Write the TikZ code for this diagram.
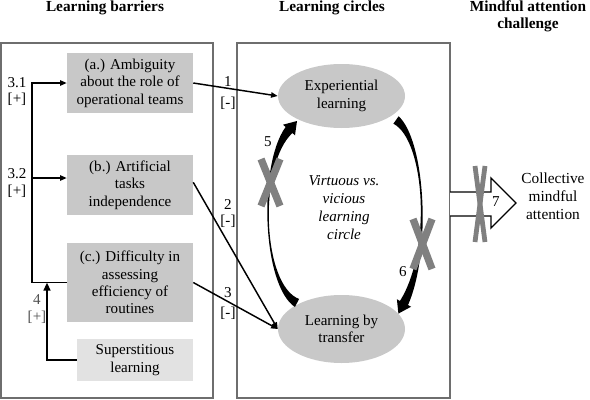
\documentclass[tikz,border=0pt]{standalone}
\usepackage{fontspec}
\setmainfont{Liberation Serif}
\usetikzlibrary{arrows.meta,shapes.geometric}
\definecolor{boxgray}{RGB}{200,200,200}
\definecolor{lightbox}{RGB}{226,226,226}
\definecolor{panelgray}{RGB}{110,110,110}
\definecolor{xgray}{RGB}{128,128,128}
\definecolor{labgray}{RGB}{80,80,80}
\begin{document}
\begin{tikzpicture}[x=0.75pt,y=-0.75pt,
  every node/.style={font=\fontsize{11.3}{13.1}\selectfont, inner sep=0pt},
  titlelab/.style={font=\bfseries\fontsize{11.5}{12.8}\selectfont, align=center},
  panel/.style={draw=panelgray, line width=1.1pt},
  box/.style={fill=boxgray, minimum width=94.5pt, align=center},
  ell/.style={ellipse, fill=boxgray, minimum width=95.25pt, align=center},
  arr/.style={line width=1.1pt, -{Triangle[length=5pt,width=4pt]}},
  arrfour/.style={line width=1.8pt, -{Triangle[length=6pt,width=5pt]}},
  xbar/.style={draw=xgray, line width=5.5pt},
  xbarthin/.style={draw=xgray, line width=3.6pt},
  ribbon/.style={fill=black}
]
\useasboundingbox (0,0) rectangle (590,400);

% panels
\draw[panel] (1,43) rectangle (213,398);
\draw[panel] (237,43) rectangle (450,398);

% titles
\node[titlelab] (t1) at (105,8) {Learning barriers};
\node[titlelab] (t2) at (332,8) {Learning circles};
\node[titlelab] (t3) at (528,16) {Mindful attention\\challenge};

% barrier boxes
\node[box, minimum height=45pt] (a) at (130,83) {(a.) Ambiguity\\about the role of\\operational teams};
\node[box, minimum height=45pt] (b) at (130,185) {(b.) Artificial\\tasks\\independence};
\node[box, minimum height=59.25pt] (c) at (130,282.5) {(c.) Difficulty in\\assessing\\efficiency of\\routines};
\node[box, fill=lightbox, minimum width=87pt, minimum height=31.5pt] (s) at (135,360) {Superstitious\\learning};

% learning circle ellipses
\node[ell, minimum height=48pt] (exp) at (341.5,96) {Experiential\\learning};
\node[ell, minimum height=51pt] (tr) at (341.5,329) {Learning by\\transfer};

% arrows barriers -> circles
\draw[arr] (a.east) -- (exp.west);
\draw[arr] ([yshift=2pt]b.east) -- (tr.west);
\draw[arr] (c.east) -- (tr.west);
\node (n1) at (228,82) {1};
\node (m1) at (228,103) {[-]};
\node (n2) at (228,205) {2};
\node (m2) at (228,221) {[-]};
\node (n3) at (228,293) {3};
\node (m3) at (228,313) {[-]};

% feedback loop
\coordinate (fb) at (32,282.5);
\coordinate (fbb) at (32,178);
\draw[arr] (c.west) -- (fb) |- (a.west);
\draw[arr] (fbb) -- (b.west |- fbb);
\node (n31) at (17,83) {3.1};
\node (m31) at (17,99) {[+]};
\node (n32) at (17,174) {3.2};
\node (m32) at (17,191) {[+]};

% superstitious learning arrow
\coordinate (j4) at (47,282.5);
\draw[arrfour] (s.west) -| (j4);
\node[text=labgray] (n4) at (37,300) {4};
\node[text=labgray] (m4) at (37,317) {[+]};

% curved ribbons
\fill[ribbon] (299.1,299) .. controls (262,285) and (258,165) .. (292.4,133)
  -- (295,135.3) -- (297,121) -- (283,124.7) -- (285.6,127)
  .. controls (258,165) and (262,285) .. (294.9,307) -- cycle;
\fill[ribbon] (393.4,123.7) .. controls (425,140) and (432,250) .. (400,300.9)
  -- (396.9,299.3) -- (398.4,313.6) -- (411.1,306.7) -- (408,305.1)
  .. controls (432,250) and (425,140) .. (398.6,116.3) -- cycle;

% crosses on the circle
\draw[xbar] (261,159) -- (280,206);
\draw[xbar] (280,159) -- (261,206);
\draw[xbar] (413,219) -- (432,269);
\draw[xbar] (432,219) -- (413,269);
\node (n5) at (268,142) {5};
\node (n6) at (403,272) {6};
\node[font=\itshape\fontsize{11.3}{13.5}\selectfont, align=center] (vv) at (344,208) {Virtuous vs.\\vicious\\learning\\circle};

% block arrow to mindful attention
\draw[line width=1pt, fill=white] (450,192) -- (491,192) -- (491,178) -- (516,203) -- (491,228) -- (491,216) -- (450,216);
\draw[xbarthin] (475,166) -- (485,242);
\draw[xbarthin] (485,166) -- (475,242);
\node (n7) at (496,202) {7};
\node[font=\fontsize{11.5}{13.5}\selectfont, align=center] (cma) at (553,196) {Collective\\mindful\\attention};
\end{tikzpicture}
\end{document}
